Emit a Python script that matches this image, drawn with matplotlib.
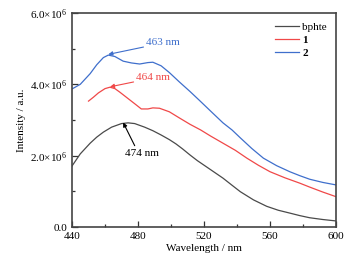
import matplotlib
matplotlib.use('Agg')
import matplotlib.pyplot as plt
from matplotlib.ticker import MultipleLocator

plt.rcParams['font.family'] = ['Liberation Serif', 'DejaVu Serif']
plt.rcParams['mathtext.fontset'] = 'custom'
plt.rcParams['mathtext.rm'] = 'Liberation Serif'
plt.rcParams['mathtext.it'] = 'Liberation Serif:italic'

# 数据 (强度单位 1e6)
wl_bphte = [440, 445, 451, 455, 459, 464, 470, 474, 478, 484, 489, 494, 499, 503, 507, 511.5,
            516, 523.6, 531.5, 537, 542, 550, 558, 565, 572, 578, 584, 592, 600]
int_bphte = [1.71, 2.05, 2.35, 2.52, 2.66, 2.80, 2.90, 2.92, 2.90, 2.80, 2.70, 2.58, 2.45, 2.33, 2.19, 2.02,
             1.86, 1.62, 1.37, 1.17, 0.99, 0.76, 0.58, 0.47, 0.39, 0.32, 0.26, 0.21, 0.17]

wl_1 = [450, 453, 456, 460, 463, 466, 469, 474, 479, 482, 486, 489, 493, 499, 505, 511.5,
        518, 524, 531.5, 539, 546, 553, 560, 569, 578, 584, 592, 600]
int_1 = [3.53, 3.64, 3.76, 3.88, 3.92, 3.88, 3.78, 3.60, 3.42, 3.31, 3.31, 3.34, 3.33, 3.23, 3.06, 2.88,
         2.72, 2.55, 2.35, 2.15, 1.93, 1.73, 1.55, 1.38, 1.23, 1.12, 0.98, 0.85]

wl_2 = [440, 445, 451, 455, 459, 462, 466, 471, 476, 481, 486, 489, 494, 499, 505, 511.5,
        517, 524, 531.5, 537, 542, 549, 556, 564, 572, 578, 584, 592, 600]
int_2 = [3.87, 4.00, 4.30, 4.55, 4.75, 4.82, 4.78, 4.65, 4.60, 4.57, 4.61, 4.62, 4.52, 4.33, 4.07, 3.80,
         3.56, 3.25, 2.92, 2.72, 2.50, 2.20, 1.93, 1.72, 1.55, 1.44, 1.34, 1.25, 1.18]

yticks = [0, 2, 4, 6]
ytick_labels = ['0.0', r'2.0×10$^{6}$', r'4.0×10$^{6}$', r'6.0×10$^{6}$']
xticks = [440, 480, 520, 560, 600]

fig = plt.figure(figsize=(3.57, 2.66), dpi=100)
ax = fig.add_axes([0.2017, 0.1466, 0.7395, 0.8045])

ax.plot(wl_bphte, int_bphte, color='#4a4a4a', lw=0.9, label='bphte')
ax.plot(wl_1, int_1, color='#f04848', lw=0.9, label='1')
ax.plot(wl_2, int_2, color='#3f6fcc', lw=0.9, label='2')

ax.set_xlim(440, 600)
ax.set_ylim(0, 6)
ax.set_xticks(xticks)
ax.xaxis.set_minor_locator(MultipleLocator(20))
ax.set_yticks(yticks)
ax.set_yticklabels(ytick_labels)
ax.yaxis.set_minor_locator(MultipleLocator(1))
ax.tick_params(which='both', direction='in', labelsize=8, width=0.9, color='#333333')
ax.tick_params(which='major', length=4)
ax.tick_params(which='minor', length=2.5)
for s in ax.spines.values():
    s.set_linewidth(1.2)
    s.set_color('#444444')

ax.set_xlabel('Wavelength / nm', fontsize=8, labelpad=2)
ax.set_ylabel('Intensity / a.u.', fontsize=8, labelpad=3)

# 标注峰位
ax.annotate('463 nm', xy=(462, 4.84), xytext=(485, 5.16), color='#3f6fcc', fontsize=8,
            va='center', arrowprops=dict(arrowstyle='-|>', color='#3f6fcc', lw=0.8,
                                         mutation_scale=6, shrinkA=0, shrinkB=0))
ax.annotate('464 nm', xy=(463, 3.93), xytext=(479, 4.18), color='#f04848', fontsize=8,
            va='center', arrowprops=dict(arrowstyle='-|>', color='#f04848', lw=0.8,
                                         mutation_scale=6, shrinkA=0, shrinkB=0))
ax.annotate('', xy=(471, 2.93), xytext=(478, 2.28),
            arrowprops=dict(arrowstyle='-|>', color='black', lw=0.8,
                            mutation_scale=6, shrinkA=0, shrinkB=0))
ax.text(472, 2.07, '474 nm', fontsize=8, va='center')

leg = ax.legend(loc='upper right', frameon=False, fontsize=8, handlelength=2.2,
                handletextpad=0.3, labelspacing=0.3, borderaxespad=0.4)
for t in leg.get_texts()[1:]:
    t.set_fontweight('bold')

fig.savefig('out.png', dpi=100)
